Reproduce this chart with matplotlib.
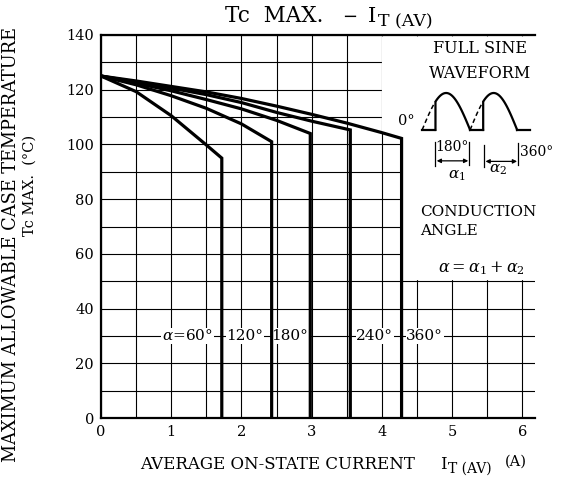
import numpy as np
import matplotlib
matplotlib.use("Agg")
import matplotlib.pyplot as plt
from matplotlib.patches import Polygon

plt.rcParams["font.family"] = ["DejaVu Serif"]
plt.rcParams["mathtext.fontset"] = "dejavuserif"

# Tc max vs average on-state current, one curve per conduction angle
x60 = [0, 0.5, 1.0, 1.5, 1.72, 1.72]
y60 = [125, 119.3, 110.5, 99.8, 95, 0]
x120 = [0, 0.5, 1.0, 1.5, 2.0, 2.43, 2.43]
y120 = [125, 121.8, 117.8, 113.2, 107.5, 101, 0]
x180 = [0, 0.5, 1.0, 1.5, 2.0, 2.5, 2.98, 2.98]
y180 = [125, 122.4, 119.6, 116.4, 113, 108.8, 104, 0]
x240 = [0, 0.5, 1.0, 1.5, 2.0, 2.5, 3.0, 3.55, 3.55]
y240 = [125, 122.8, 120.6, 118.2, 115.3, 111.7, 108.5, 105.3, 0]
x360 = [0, 0.5, 1.0, 1.5, 2.0, 2.5, 3.0, 3.5, 4.0, 4.28, 4.28]
y360 = [125, 123.2, 121.2, 119.2, 116.8, 114, 111, 107.8, 104.3, 102.2, 0]

curves = [(x60, y60), (x120, y120), (x180, y180), (x240, y240), (x360, y360)]

angle_labels = ["$\\alpha$=60°", "120°", "180°", "240°", "360°"]
label_x = [1.23, 2.05, 2.69, 3.9, 4.61]
label_y = 30

x_ticks = [0, 1, 2, 3, 4, 5, 6]
y_ticks = [0, 20, 40, 60, 80, 100, 120, 140]

fig = plt.figure(figsize=(5.63, 4.88), dpi=100)
ax = fig.add_axes([101 / 563, 70 / 488, 434 / 563, 383 / 488])
ax.set_xlim(0, 6.18)
ax.set_ylim(0, 140)

# grid: every 0.5 A and every 10 degC
ax.set_xticks(x_ticks)
ax.set_xticks(np.arange(0.5, 6.01, 1.0), minor=True)
ax.set_yticks(y_ticks)
ax.set_yticks(np.arange(10, 131, 20), minor=True)
ax.set_axisbelow(True)
ax.grid(True, which="both", color="black", linewidth=0.8)
ax.tick_params(which="both", length=0, labelsize=10.5, pad=5, colors="black")

for side in ["left", "bottom", "top"]:
    ax.spines[side].set_linewidth(1.6)
ax.spines["right"].set_visible(False)

# blank area for the waveform sketch
ax.add_patch(Polygon([(4.0, 139.5), (4.0, 104), (4.28, 102.2), (4.28, 50.4),
                      (6.18, 50.4), (6.18, 139.5)],
                     closed=True, facecolor="white", edgecolor="none", zorder=1.2))

for xs, ys in curves:
    ax.plot(xs, ys, color="black", linewidth=2.3, zorder=5, solid_joinstyle="miter")

for txt, lx in zip(angle_labels, label_x):
    ax.text(lx, label_y, txt, ha="center", va="center", fontsize=11, zorder=4,
            bbox=dict(facecolor="white", edgecolor="none", pad=0.5))

# waveform sketch
base, peak = 105.3, 118.8
h0, h1, h2 = 4.573, 5.256, 5.926
fire = np.deg2rad(50)
for start, end in [(h0, h1), (h1, h2)]:
    w = end - start
    th = np.linspace(0, fire, 20)
    ax.plot(start + w * th / np.pi, base + (peak - base) * np.sin(th),
            color="black", linewidth=1.1, linestyle=(0, (3, 2)), zorder=5)
    th = np.linspace(fire, np.pi, 60)
    xs = np.concatenate([[start + w * fire / np.pi], start + w * th / np.pi])
    ys = np.concatenate([[base], base + (peak - base) * np.sin(th)])
    ax.plot(xs, ys, color="black", linewidth=1.6, zorder=5)
ax.plot([h0, h0 + (h1 - h0) * 50 / 180], [base, base], color="black", linewidth=1.6, zorder=5)
ax.plot([h1, h1 + (h2 - h1) * 50 / 180], [base, base], color="black", linewidth=1.6, zorder=5)
ax.plot([h2, 6.11], [base, base], color="black", linewidth=1.6, zorder=5)

# angle markers
for xm, y0, y1 in [(4.758, 92, 101), (5.247, 92.5, 101), (5.456, 91.7, 99.8), (5.945, 92.5, 100.5)]:
    ax.plot([xm, xm], [y0, y1], color="black", linewidth=0.9, zorder=5)
arrow = dict(arrowstyle="<|-|>", color="black", lw=0.9, mutation_scale=6,
             shrinkA=0, shrinkB=0)
ax.annotate("", xy=(4.78, 94), xytext=(5.23, 94), arrowprops=arrow, zorder=5)
ax.annotate("", xy=(5.475, 93.8), xytext=(5.925, 93.8), arrowprops=arrow, zorder=5)
ax.text(5.0, 99.0, "180°", ha="center", va="center", fontsize=10, zorder=5)
ax.text(5.97, 97.3, "360°", ha="left", va="center", fontsize=10, zorder=5, clip_on=False)
ax.text(5.07, 88.5, "$\\alpha_1$", ha="center", va="center", fontsize=11, zorder=5)
ax.text(5.66, 90.8, "$\\alpha_2$", ha="center", va="center", fontsize=11, zorder=5)
ax.text(4.35, 108.5, "0°", ha="center", va="center", fontsize=10.5, zorder=5)

ax.text(5.40, 135.2, "FULL SINE", ha="center", va="center", fontsize=11.5, zorder=5)
ax.text(5.40, 126.1, "WAVEFORM", ha="center", va="center", fontsize=11.5, zorder=5)
ax.text(4.544, 75.4, "CONDUCTION", ha="left", va="center", fontsize=11, zorder=5)
ax.text(4.544, 68.5, "ANGLE", ha="left", va="center", fontsize=11, zorder=5)
ax.text(5.42, 54.7, "$\\alpha = \\alpha_1 + \\alpha_2$", ha="center", va="center",
        fontsize=11.5, zorder=5)

# title, set piece by piece so the subscript stays nearly full size
ty = 1 - 22 / 488
fig.text(225 / 563, ty, "Tc  MAX.", ha="left", va="baseline", fontsize=15.5)
fig.text(350 / 563, ty, "\u2212", ha="center", va="baseline", fontsize=13)
fig.text(368 / 563, ty, "I", ha="left", va="baseline", fontsize=15)
fig.text(378 / 563, ty - 4 / 488, "T (AV)", ha="left", va="baseline", fontsize=12.5)

# x label
fig.text(278 / 563, 1 - 469 / 488, "AVERAGE ON-STATE CURRENT",
         ha="center", va="baseline", fontsize=12)
xi = fig.text(440 / 563, 1 - 469 / 488, "I", ha="left", va="baseline", fontsize=12)
ax.annotate("T (AV)", xy=(1.0, 1 - 469 / 488), xycoords=(xi, "figure fraction"),
            xytext=(1, -3), textcoords="offset points",
            ha="left", va="baseline", fontsize=10, annotation_clip=False)
fig.text(516 / 563, 1 - 466 / 488, "(A)", ha="center", va="baseline", fontsize=10.5)

fig.text(11 / 563, 1 - 244 / 488, "MAXIMUM ALLOWABLE CASE TEMPERATURE",
         ha="center", va="center", rotation=90, fontsize=12.8)
fig.text(30 / 563, 1 - 185 / 488, "Tc MAX.  (°C)",
         ha="center", va="center", rotation=90, fontsize=10.5)

fig.savefig("out.png", dpi=100)
